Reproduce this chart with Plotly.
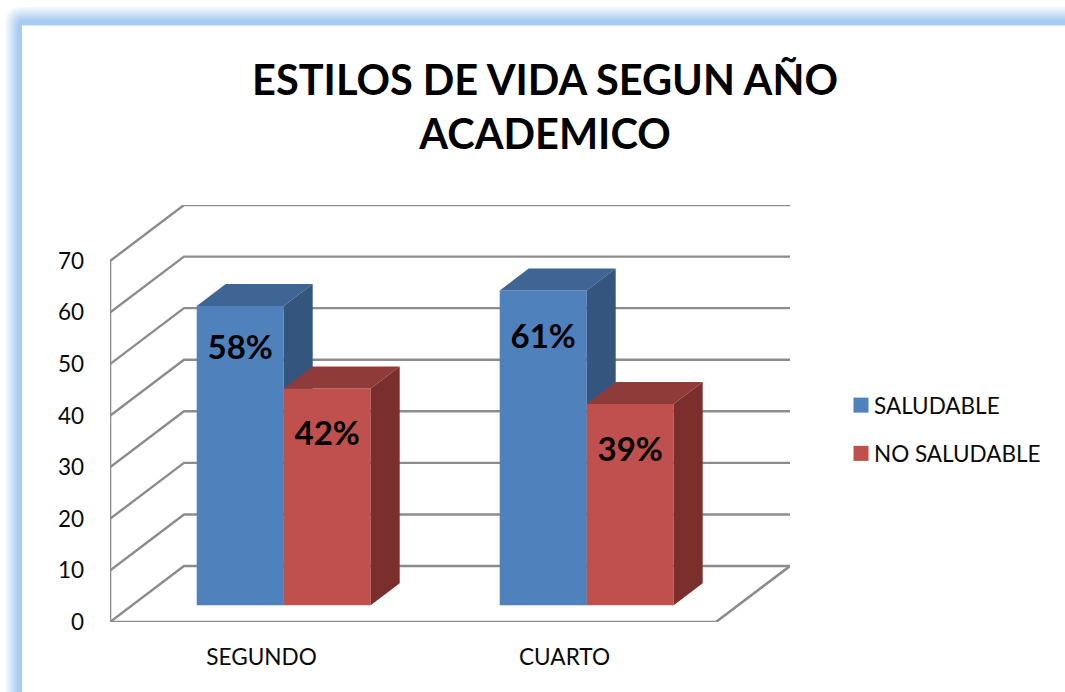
import plotly.graph_objects as go

TITLE = "ESTILOS DE VIDA SEGUN AÑO<br>ACADEMICO"
categories = ["SEGUNDO", "CUARTO"]
series_names = ["SALUDABLE", "NO SALUDABLE"]
saludable = [58, 61]
no_saludable = [42, 39]
y_ticks = [0, 10, 20, 30, 40, 50, 60, 70]

W, H = 1065, 692
L, R, T, B = 110, 790, 205, 622
CAT_PX = 303.0
UNIT_PX = 5.157
WALL_DX = 74 / CAT_PX
WALL_DY = 56 / UNIT_PX
X_RANGE = [-0.5, -0.5 + (R - L) / CAT_PX]
Y_RANGE = [0, (B - T) / UNIT_PX]
BAR_W = 87 / CAT_PX
FRONT = 0.30
BASE = FRONT * WALL_DY
DEPTH_X = 29 / CAT_PX
DEPTH_Y = 22 / UNIT_PX
GRID = "#8c8c8c"
FONT = "Lato"
TXT = "#0a0a0a"
LABEL_DROP = [[8.6, 9.5], [9.4, 9.4]]

colors = [
    dict(front="#4f81bd", top="#3e6593", side="#33557e"),
    dict(front="#c0504d", top="#8f3b39", side="#7b2f2d"),
]

fig = go.Figure()

# Walls and floor: gridlines run from the value axis back along the side wall, then across the back wall
for v in y_ticks:
    fig.add_trace(go.Scatter(
        x=[X_RANGE[0], X_RANGE[0] + WALL_DX, X_RANGE[1]],
        y=[v, v + WALL_DY, v + WALL_DY],
        mode="lines", line=dict(color=GRID, width=2.4), showlegend=False, hoverinfo="skip"))
fig.add_trace(go.Scatter(
    x=[X_RANGE[0], X_RANGE[0], None, X_RANGE[0], X_RANGE[1] - WALL_DX, X_RANGE[1]],
    y=[y_ticks[-1], 0, None, 0, 0, WALL_DY],
    mode="lines", line=dict(color=GRID, width=2.6), showlegend=False, hoverinfo="skip"))

# Each series sits on its own overlay so that the next series hides its side face
for s, (vals, col) in enumerate(zip([saludable, no_saludable], colors)):
    ax = dict(xaxis=f"x{s + 2}", yaxis=f"y{s + 2}")
    xs = [i + FRONT * WALL_DX + (s - 0.5) * BAR_W for i in range(len(categories))]
    fig.add_trace(go.Bar(x=xs, y=vals, base=BASE, width=BAR_W, marker=dict(color=col["front"], line_width=0),
                         showlegend=False, hoverinfo="skip", **ax))
    for x, v in zip(xs, vals):
        xl, xr, top = x - BAR_W / 2, x + BAR_W / 2, BASE + v
        fig.add_trace(go.Scatter(
            x=[xl, xl + DEPTH_X, xr + DEPTH_X, xr, xl],
            y=[top, top + DEPTH_Y, top + DEPTH_Y, top, top],
            mode="lines", fill="toself", fillcolor=col["top"], line=dict(width=0, color=col["top"]),
            showlegend=False, hoverinfo="skip", **ax))
        fig.add_trace(go.Scatter(
            x=[xr, xr + DEPTH_X, xr + DEPTH_X, xr, xr],
            y=[BASE, BASE + DEPTH_Y, top + DEPTH_Y, top, BASE],
            mode="lines", fill="toself", fillcolor=col["side"], line=dict(width=0, color=col["side"]),
            showlegend=False, hoverinfo="skip", **ax))
    fig.add_trace(go.Scatter(
        x=xs, y=[BASE + v - d for v, d in zip(vals, LABEL_DROP[s])], text=[f"{v}%" for v in vals],
        mode="text", textposition="middle center",
        textfont=dict(family=FONT, size=33, color="#000000", weight=700),
        showlegend=False, hoverinfo="skip", **ax))

# Legend keys
for s, (name, col) in enumerate(zip(series_names, colors)):
    fig.add_trace(go.Scatter(
        x=[None], y=[None], mode="markers", name=name, legendgroup=name,
        marker=dict(symbol="square", size=15, color=col["front"])))

def px(x):
    return (x - L) / (R - L)

def py(y):
    return (B - y) / (B - T)

# Blue glow along the top and left of the panel
shapes = []
STEPS = 16
for i in range(STEPS + 1):
    f = i / STEPS
    c = tuple(round(255 + (e - 255) * f) for e in (168, 203, 241))
    x0 = 4 + 14 * f
    y0 = 5 + 15 * f
    r = 18 - 10 * f
    path = (f"M {px(x0)} {py(H + 5)} L {px(x0)} {py(y0 + r)} Q {px(x0)} {py(y0)} {px(x0 + r)} {py(y0)} "
            f"L {px(W + 5)} {py(y0)} L {px(W + 5)} {py(H + 5)} Z")
    shapes.append(dict(type="path", xref="paper", yref="paper", path=path, layer="below",
                       fillcolor=f"rgb{c}", line_width=0))
shapes.append(dict(type="rect", xref="paper", yref="paper", x0=px(22), x1=px(W + 5), y0=py(H + 5), y1=py(25.5),
                   layer="below", fillcolor="#ffffff", line_width=0))

overlay_x = dict(range=X_RANGE, visible=False, overlaying="x")
overlay_y = dict(range=Y_RANGE, visible=False)

fig.update_layout(
    width=W, height=H,
    margin=dict(l=L, r=W - R, t=T, b=H - B, autoexpand=False),
    paper_bgcolor="#ffffff", plot_bgcolor="rgba(0,0,0,0)",
    barmode="overlay",
    shapes=shapes,
    title=dict(text=TITLE, x=545 / W, xref="container", xanchor="center",
               y=1 - 95 / H, yref="container", yanchor="top",
               font=dict(family=FONT, size=41.5, color="#000000", weight=700)),
    xaxis=dict(range=X_RANGE, tickmode="array", tickvals=[0, 1], ticktext=categories,
               showgrid=False, zeroline=False, showline=False, ticks="", ticklabelstandoff=19,
               tickfont=dict(family=FONT, size=22.6, color=TXT)),
    yaxis=dict(range=Y_RANGE, tickmode="array", tickvals=y_ticks,
               showgrid=False, zeroline=False, showline=False, ticks="", ticklabelstandoff=25,
               tickfont=dict(family=FONT, size=22.5, color=TXT)),
    xaxis2=overlay_x, yaxis2=dict(overlay_y, overlaying="y"),
    xaxis3=overlay_x, yaxis3=dict(overlay_y, overlaying="y"),
    legend=dict(x=px(834), y=py(384), xanchor="left", yanchor="top", tracegroupgap=16,
                bgcolor="rgba(0,0,0,0)", font=dict(family=FONT, size=22.5, color=TXT), itemwidth=30),
)

post = """
document.body.style.margin = '0';
document.querySelectorAll('.legend .legendpoints').forEach(function (g) {
    g.setAttribute('transform', 'translate(7,0)');
});
"""
fig.write_html("out.html", post_script=post, config=dict(displayModeBar=False))
